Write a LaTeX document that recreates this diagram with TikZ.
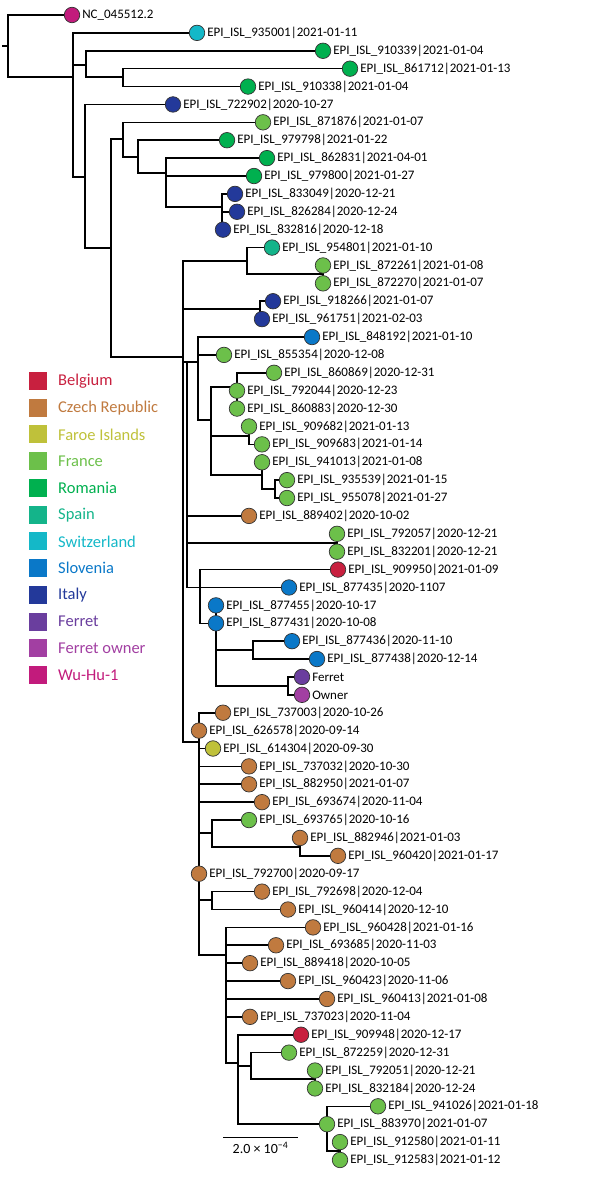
\documentclass[tikz,border=0pt]{standalone}
\usepackage{fontspec}
\setmainfont{Carlito}
\usetikzlibrary{backgrounds}
\definecolor{belg}{HTML}{C8203F}
\definecolor{czech}{HTML}{C07A3F}
\definecolor{faroe}{HTML}{BFC13A}
\definecolor{france}{HTML}{6CC04A}
\definecolor{roman}{HTML}{00B04F}
\definecolor{spain}{HTML}{14B48A}
\definecolor{swiss}{HTML}{14B8C8}
\definecolor{slov}{HTML}{0A78C8}
\definecolor{italy}{HTML}{23399A}
\definecolor{ferret}{HTML}{6A3E9E}
\definecolor{owner}{HTML}{A23FA2}
\definecolor{wuhu}{HTML}{C21B7C}
\tikzset{
 branch/.style={line width=1.6pt,line cap=rect},
 tip/.style={circle,draw=black!80,line width=0.7pt,fill=#1,minimum size=15.5pt,inner sep=0pt},
 lab/.style={anchor=west,inner sep=2pt,font=\fontsize{13}{14}\selectfont},
 legbox/.style={fill=#1,minimum size=18pt,inner sep=0pt},
 legtext/.style={anchor=west,inner sep=0pt,text=#1,font=\fontsize{16.5}{18}\selectfont}
}
\def\tips{72/wuhu/NC\_045512.2,197/swiss/EPI\_ISL\_935001|2021-01-11,323/roman/EPI\_ISL\_910339|2021-01-04,
350/roman/EPI\_ISL\_861712|2021-01-13,248/roman/EPI\_ISL\_910338|2021-01-04,173/italy/EPI\_ISL\_722902|2020-10-27,
263/france/EPI\_ISL\_871876|2021-01-07,227/roman/EPI\_ISL\_979798|2021-01-22,267/roman/EPI\_ISL\_862831|2021-04-01,
254/roman/EPI\_ISL\_979800|2021-01-27,235/italy/EPI\_ISL\_833049|2020-12-21,237/italy/EPI\_ISL\_826284|2020-12-24,
223/italy/EPI\_ISL\_832816|2020-12-18,272/spain/EPI\_ISL\_954801|2021-01-10,323/france/EPI\_ISL\_872261|2021-01-08,
323/france/EPI\_ISL\_872270|2021-01-07,273/italy/EPI\_ISL\_918266|2021-01-07,262/italy/EPI\_ISL\_961751|2021-02-03,
312/slov/EPI\_ISL\_848192|2021-01-10,224/france/EPI\_ISL\_855354|2020-12-08,274/france/EPI\_ISL\_860869|2020-12-31,
237/france/EPI\_ISL\_792044|2020-12-23,237/france/EPI\_ISL\_860883|2020-12-30,249/france/EPI\_ISL\_909682|2021-01-13,
262/france/EPI\_ISL\_909683|2021-01-14,262/france/EPI\_ISL\_941013|2021-01-08,287/france/EPI\_ISL\_935539|2021-01-15,
287/france/EPI\_ISL\_955078|2021-01-27,249/czech/EPI\_ISL\_889402|2020-10-02,337/france/EPI\_ISL\_792057|2020-12-21,
337/france/EPI\_ISL\_832201|2020-12-21,338/belg/EPI\_ISL\_909950|2021-01-09,289/slov/EPI\_ISL\_877435|2020-1107,
216/slov/EPI\_ISL\_877455|2020-10-17,216/slov/EPI\_ISL\_877431|2020-10-08,292/slov/EPI\_ISL\_877436|2020-11-10,
317/slov/EPI\_ISL\_877438|2020-12-14,302/ferret/Ferret,302/owner/Owner,
223/czech/EPI\_ISL\_737003|2020-10-26,199/czech/EPI\_ISL\_626578|2020-09-14,213/faroe/EPI\_ISL\_614304|2020-09-30,
249/czech/EPI\_ISL\_737032|2020-10-30,249/czech/EPI\_ISL\_882950|2021-01-07,262/czech/EPI\_ISL\_693674|2020-11-04,
249/france/EPI\_ISL\_693765|2020-10-16,300/czech/EPI\_ISL\_882946|2021-01-03,338/czech/EPI\_ISL\_960420|2021-01-17,
199/czech/EPI\_ISL\_792700|2020-09-17,262/czech/EPI\_ISL\_792698|2020-12-04,288/czech/EPI\_ISL\_960414|2020-12-10,
313/czech/EPI\_ISL\_960428|2021-01-16,276/czech/EPI\_ISL\_693685|2020-11-03,250/czech/EPI\_ISL\_889418|2020-10-05,
288/czech/EPI\_ISL\_960423|2020-11-06,327/czech/EPI\_ISL\_960413|2021-01-08,250/czech/EPI\_ISL\_737023|2020-11-04,
301/belg/EPI\_ISL\_909948|2020-12-17,289/france/EPI\_ISL\_872259|2020-12-31,315/france/EPI\_ISL\_792051|2020-12-21,
315/france/EPI\_ISL\_832184|2020-12-24,378/france/EPI\_ISL\_941026|2021-01-18,327/france/EPI\_ISL\_883970|2021-01-07,
340/france/EPI\_ISL\_912580|2021-01-11,340/france/EPI\_ISL\_912583|2021-01-12}
\begin{document}
\begin{tikzpicture}[x=1pt,y=-1pt]
\useasboundingbox (0,0) rectangle (600,1177);
\foreach \x/\c/\t [count=\i] in \tips {\coordinate (c\i) at (\x,{15+(\i-1)*17.89});}
\foreach \n/\x/\y in {stub/3/46,R0/8/46,A/73/77,B/86/65,C/123/77,D/85/177,J/111/248,F/123/139,G/138/157,H/166/173,
I/222/207,K/183/357,K2/187/362,L/247/261,M/323/274,N/260/309,P/198/362,Q/211/420,R/237/387,S/249/436,T/262/475,
U/275/489,V/337/543,W/200/587.5,X/216/623.3,Y/253/650,Z/288/686,CZ/199/742,AA/212/833,AB/300/847,AC/212/900,
AD/226/955,AE/238/1063,AF/251/1066,AG/315/1079,AH/327/1124.2,AI/340/1151}
 {\coordinate (\n) at (\x,\y);}
\draw[branch](stub)--(R0);
\foreach \p/\c in {R0/c1,R0/A,A/c2,A/B,A/D,B/c3,B/C,C/c4,C/c5,D/c6,D/J,J/F,J/K,F/c7,F/G,G/c8,G/H,H/c9,H/c10,H/I,
I/c11,I/c12,I/c13,K/L,K/N,K/K2,K/CZ,L/c14,L/M,M/c15,M/c16,N/c17,N/c18,K2/P,K2/c29,K2/V,K2/W,P/c19,P/c20,P/Q,
Q/R,Q/S,Q/T,R/c21,R/c22,R/c23,S/c24,S/c25,T/c26,T/U,U/c27,U/c28,V/c30,V/c31,W/c32,W/c33,W/X,X/c34,X/c35,X/Y,X/Z,
Y/c36,Y/c37,Z/c38,Z/c39,CZ/c40,CZ/c41,CZ/c42,CZ/c43,CZ/c44,CZ/c45,CZ/AA,CZ/c49,CZ/AC,CZ/AD,AA/c46,AA/AB,
AB/c47,AB/c48,AC/c50,AC/c51,AD/c52,AD/c53,AD/c54,AD/c55,AD/c56,AD/c57,AD/AE,AE/c58,AE/AF,AE/AH,AF/c59,AF/AG,
AG/c60,AG/c61,AH/c62,AH/c63,AH/AI,AI/c64,AI/c65}
 {\draw[branch](\p)|-(\c);}
\foreach \x/\c/\t [count=\i] in \tips {\node[tip=\c](n\i) at (c\i){}; \node[lab](l\i) at (n\i.east){\t};}
\foreach \c/\t [count=\i] in {belg/Belgium,czech/Czech Republic,faroe/Faroe Islands,france/France,roman/Romania,
spain/Spain,swiss/Switzerland,slov/Slovenia,italy/Italy,ferret/Ferret,owner/Ferret owner,wuhu/Wu-Hu-1}
 {\node[legbox=\c](k\i) at (38,{381+(\i-1)*26.73}){}; \node[legtext=\c](kl\i) at (58,{381+(\i-1)*26.73}){\t};}
\coordinate (s1) at (223,1137);
\coordinate (s2) at (298,1137);
\draw[line width=0.9pt](s1)--(s2)node[midway,below=1pt,font=\fontsize{14}{16}\selectfont](sbl){2.0 × 10\textsuperscript{−4}};
\end{tikzpicture}
\end{document}
